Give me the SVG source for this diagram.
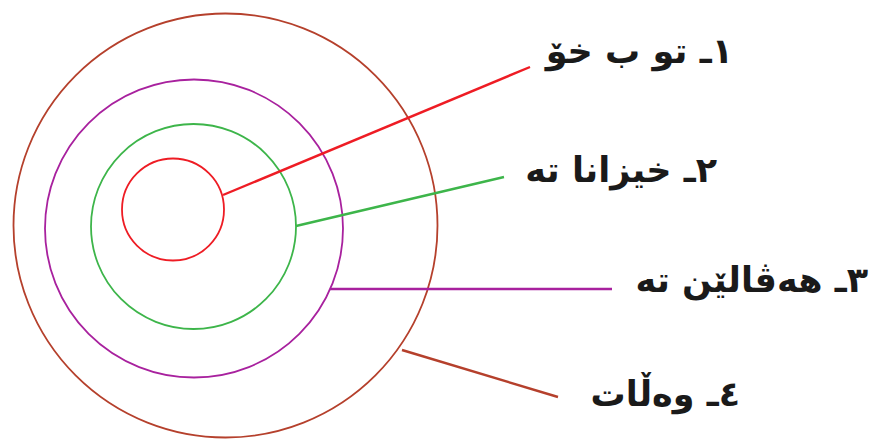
<svg xmlns="http://www.w3.org/2000/svg" width="876" height="439" viewBox="0 0 876 439">
<style>
.ring{fill:none;stroke-width:1.8}
.ln{fill:none;stroke-width:2.4}
.lbl{font-family:"DejaVu Sans","Noto Sans",sans-serif;font-weight:bold;font-size:35px;fill:#1a1a1a}
.red{stroke:#ee1c24}.green{stroke:#3db54a}.purple{stroke:#a8219e}.brown{stroke:#b5402c}
</style>
<rect width="876" height="439" fill="#fff"/>
<g id="ring4"><circle class="ring brown" cx="225.5" cy="225.5" r="212"/></g>
<g id="ring3"><circle class="ring purple" cx="194" cy="228.5" r="149"/></g>
<g id="ring2"><circle class="ring green" cx="193.5" cy="226.5" r="102.5"/></g>
<g id="ring1"><circle class="ring red" cx="173" cy="209.5" r="51"/></g>
<g id="connectors">
<line class="ln red" x1="223" y1="195" x2="530" y2="67"/>
<line class="ln green" x1="296" y1="226" x2="504" y2="177"/>
<line class="ln purple" x1="330" y1="289" x2="612" y2="289"/>
<line class="ln brown" x1="402" y1="350" x2="558" y2="397"/>
</g>
<g id="label1"><text class="lbl" x="733" y="63" direction="rtl" text-anchor="start">١ـ تو ب خۆ</text></g>
<g id="label2"><text class="lbl" x="717" y="182" direction="rtl" text-anchor="start">٢ـ خیزانا تە</text></g>
<g id="label3"><text class="lbl" x="868" y="292" direction="rtl" text-anchor="start">٣ـ هەڤالێن تە</text></g>
<g id="label4"><text class="lbl" x="740" y="406" direction="rtl" text-anchor="start">٤ـ وەڵات</text></g>
</svg>
